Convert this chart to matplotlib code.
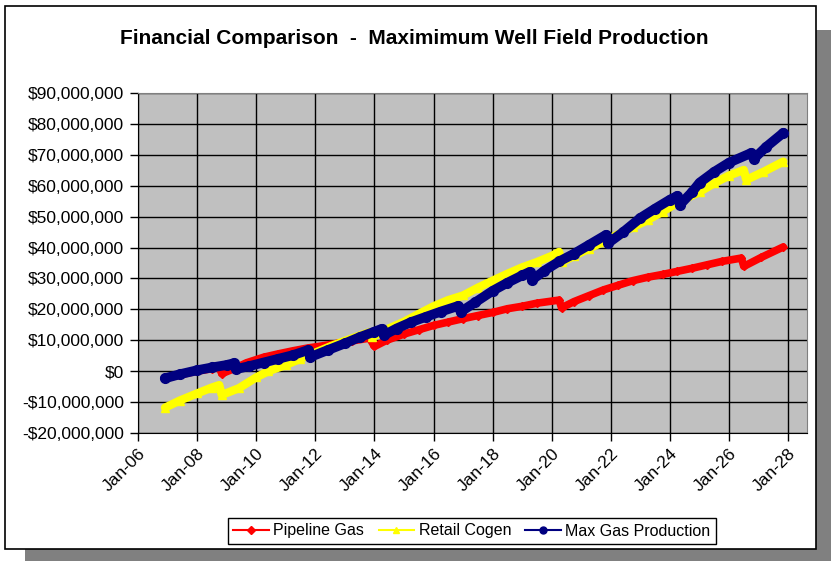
import matplotlib
matplotlib.use("Agg")
import matplotlib.pyplot as plt
import matplotlib.dates as mdates
from matplotlib.lines import Line2D
from matplotlib.patches import Rectangle
from matplotlib.ticker import FuncFormatter, MultipleLocator
import numpy as np

# values in $ millions
pipeline_dates = ["2006-12", "2007-06", "2008-01", "2008-07", "2008-10", "2008-11", "2009-04",
                  "2009-09", "2010-04", "2010-10", "2011-04", "2011-10", "2012-04", "2012-10",
                  "2013-04", "2013-11", "2014-01", "2014-06", "2015-01", "2015-07", "2016-01",
                  "2016-07", "2017-01", "2017-07", "2018-01", "2018-07", "2019-01", "2019-07",
                  "2020-04", "2020-05", "2020-10", "2021-04", "2021-10", "2022-04", "2022-10",
                  "2023-04", "2023-10", "2024-04", "2024-10", "2025-04", "2025-10", "2026-06",
                  "2026-07", "2027-02", "2027-11"]
pipeline_vals = [-2.4, -1.2, 0.0, 0.8, 1.2, -0.8, 0.8,
                 2.7, 4.5, 5.6, 6.6, 7.5, 8.2, 9.0,
                 9.8, 10.7, 8.0, 10.0, 12.0, 13.4, 14.8,
                 15.9, 17.0, 18.0, 19.0, 20.2, 21.0, 22.0,
                 23.0, 20.5, 22.5, 24.4, 26.3, 27.8, 29.3,
                 30.4, 31.3, 32.3, 33.3, 34.4, 35.5, 36.6,
                 33.9, 36.8, 40.2]

cogen_dates = ["2006-12", "2007-06", "2008-01", "2008-07", "2008-10", "2008-11", "2009-06",
               "2010-01", "2010-06", "2011-01", "2011-07", "2012-01", "2012-07", "2013-01",
               "2013-07", "2013-11", "2013-12", "2014-06", "2015-01", "2015-07", "2016-01",
               "2016-07", "2017-01", "2017-07", "2018-01", "2018-07", "2019-01", "2019-07",
               "2020-01", "2020-04", "2020-05", "2020-10", "2021-04", "2021-10", "2022-04",
               "2022-10", "2023-04", "2023-10", "2024-04", "2025-01", "2025-07", "2026-01",
               "2026-07", "2026-08", "2027-03", "2027-11"]
cogen_vals = [-11.8, -9.5, -7.2, -5.3, -4.5, -7.7, -5.5,
              -2.0, 0.0, 2.0, 4.0, 6.0, 8.0, 9.8,
              11.5, 12.6, 10.9, 13.5, 16.0, 18.5, 21.0,
              23.0, 24.5, 27.0, 29.3, 31.5, 33.6, 35.3,
              37.3, 38.6, 35.2, 37.3, 39.6, 41.9, 44.3,
              46.6, 48.9, 51.6, 54.5, 58.0, 60.8, 63.3,
              65.1, 61.9, 64.5, 67.8]

maxgas_dates = ["2006-12", "2007-06", "2008-01", "2008-07", "2009-01", "2009-04", "2009-05",
                "2009-10", "2010-04", "2010-10", "2011-04", "2011-10", "2011-11", "2012-06",
                "2013-01", "2013-07", "2014-01", "2014-04", "2014-05", "2014-10", "2015-04",
                "2015-10", "2016-04", "2016-11", "2016-12", "2017-06", "2018-01", "2018-07",
                "2019-01", "2019-04", "2019-05", "2019-10", "2020-04", "2020-10", "2021-04",
                "2021-11", "2021-12", "2022-06", "2023-01", "2023-07", "2024-01", "2024-04",
                "2024-05", "2024-10", "2025-01", "2025-07", "2026-01", "2026-10", "2026-11",
                "2027-04", "2027-11"]
maxgas_vals = [-2.3, -1.0, 0.3, 1.2, 2.0, 2.6, 0.7,
               1.6, 2.8, 4.0, 5.2, 6.8, 4.6, 6.8,
               9.0, 11.0, 12.8, 13.7, 11.7, 13.8, 15.9,
               17.6, 19.3, 21.1, 19.2, 22.3, 26.0, 28.6,
               31.0, 32.1, 29.5, 32.5, 35.5, 38.0, 40.8,
               44.1, 41.5, 45.0, 49.6, 52.6, 55.5, 56.7,
               53.8, 58.0, 61.0, 64.5, 67.5, 70.6, 68.7,
               72.5, 77.1]

series_names = ["Pipeline Gas", "Retail Cogen", "Max Gas Production"]
title = "Financial Comparison  -  Maximimum Well Field Production"

W, H = 831, 561
FONT = ["Liberation Sans", "DejaVu Sans"]
plt.rcParams["font.family"] = FONT


def px(x0, y0, x1, y1):
    # pixel box (top-left origin) -> figure fraction rect
    return (x0 / W, 1 - y1 / H), (x1 - x0) / W, (y1 - y0) / H


def money(v, pos):
    v = v * 1e6
    if v < 0:
        return f"-${abs(v):,.0f}"
    return f"${v:,.0f}"


fig = plt.figure(figsize=(W / 100, H / 100), dpi=100)

# frame with drop shadow
xy, w, h = px(25, 30, 831, 561)
fig.add_artist(Rectangle(xy, w, h, transform=fig.transFigure, facecolor="#808080", edgecolor="none", zorder=-3))
xy, w, h = px(5, 6, 816, 549)
fig.add_artist(Rectangle(xy, w, h, transform=fig.transFigure, facecolor="white", edgecolor="black", lw=1.2, zorder=-2))

ax = fig.add_axes([138 / W, 1 - 433 / H, (807 - 138) / W, (433 - 93) / H])
ax.set_facecolor("#C0C0C0")

styles = [
    (pipeline_dates, pipeline_vals, "#FF0000", "D", 4.5, 5.5),
    (cogen_dates, cogen_vals, "#FFFF00", "^", 6, 6.0),
    (maxgas_dates, maxgas_vals, "#000080", "o", 7, 7.0),
]
for dates, vals, col, mk, ms, lw in styles:
    d = np.array(dates, dtype="datetime64[M]").astype("datetime64[D]")
    ax.plot(d, vals, color=col, lw=lw, marker=mk, ms=ms, mec=col, mfc=col,
            solid_capstyle="round", solid_joinstyle="round", zorder=3)

ax.set_ylim(-20, 90)
ax.yaxis.set_major_locator(MultipleLocator(10))
ax.yaxis.set_major_formatter(FuncFormatter(money))
ax.set_xlim(np.datetime64("2006-01-01"), np.datetime64("2028-08-20"))
ax.xaxis.set_major_locator(mdates.YearLocator(2))
ax.xaxis.set_major_formatter(mdates.DateFormatter("%b-%y"))

ax.grid(True, color="black", lw=1.0, zorder=1)
ax.set_axisbelow(True)
for s in ["top", "right"]:
    ax.spines[s].set_color("#808080")
for s in ["left", "bottom"]:
    ax.spines[s].set_color("black")
ax.tick_params(axis="both", direction="out", length=6, width=1, color="black", labelsize=12.5)
ax.tick_params(axis="y", pad=4)
for lbl in ax.get_xticklabels():
    lbl.set_rotation(45)
    lbl.set_ha("right")
    lbl.set_rotation_mode("anchor")

fig.text(414 / W, 1 - 38 / H, title, ha="center", va="center", fontsize=15, fontweight="bold")

handles = [Line2D([], [], color=c, lw=1.5, marker=m, ms=5 if m != "D" else 4, mfc=c, mec=c)
           for _, _, c, m, _, _ in styles]
fig.legend(handles, series_names, loc="center", bbox_to_anchor=(472 / W, 1 - 531 / H), ncol=3,
           fontsize=11.5, frameon=True, fancybox=False, edgecolor="black", framealpha=1,
           handlelength=2.2, handletextpad=0.3, columnspacing=0.9, borderpad=0.35)

fig.savefig("out.png", dpi=100)
